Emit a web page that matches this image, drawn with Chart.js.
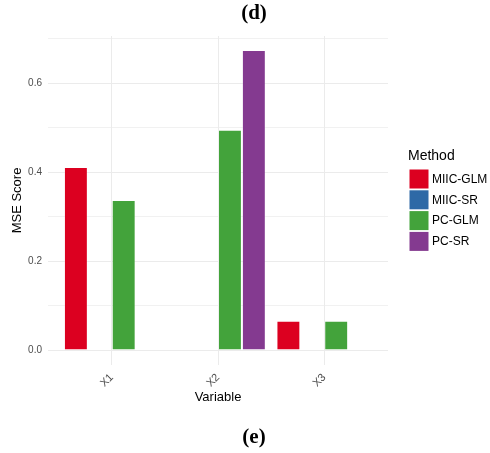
<!DOCTYPE html>
<html lang="en">
<head>
    <meta charset="UTF-8" />
    <title>MSE Score by Variable</title>
    <script src="https://cdn.jsdelivr.net/npm/chart.js"></script>
    <style>
        html, body { margin: 0; padding: 0; background: #ffffff; }
        #wrap { position: relative; width: 490px; height: 453px; }
    </style>
</head>
<body>
    <div id="wrap">
        <canvas id="mseChart" width="490" height="453"></canvas>
    </div>

    <script>
        // categories and scores per method
        const variables = ["X1", "X2", "X3"];
        const methods = ["MIIC-GLM", "MIIC-SR", "PC-GLM", "PC-SR"];
        const miicGlm = [0.411, null, 0.066];
        const miicSr = [null, null, null];
        const pcGlm = [0.337, 0.495, 0.066];
        const pcSr = [null, 0.674, null];
        const colors = ["#DC0020", "#2E69A6", "#43A33B", "#843A90"];
        const yTicks = [0, 0.1, 0.2, 0.3, 0.4, 0.5, 0.6, 0.7];

        const seriesValues = [miicGlm, miicSr, pcGlm, pcSr];
        const datasets = methods.map((m, i) => ({
            label: m,
            data: seriesValues[i].map((v, j) => ({ x: j + 1, y: v })),
            backgroundColor: colors[i],
            borderColor: "rgba(255,255,255,0.25)",
            borderWidth: 1,
            categoryPercentage: 0.9,
            barPercentage: 1.0,
        }));

        const FONT = "'Liberation Sans', Arial, sans-serif";

        // legend and panel labels drawn straight onto the canvas
        const extras = {
            id: "extras",
            afterDraw(chart) {
                const ctx = chart.ctx;
                ctx.save();
                ctx.fillStyle = "#000";
                ctx.textAlign = "center";
                ctx.textBaseline = "middle";
                ctx.font = "bold 21px 'Liberation Serif', 'Times New Roman', serif";
                ctx.fillText("(d)", 254, 14);
                ctx.fillText("(e)", 254, 438);

                ctx.textAlign = "left";
                ctx.font = "14px " + FONT;
                ctx.fillText("Method", 408, 156);
                ctx.font = "12px " + FONT;
                chart.data.datasets.forEach((ds, i) => {
                    const y = 169.5 + i * 20.8;
                    ctx.fillStyle = ds.backgroundColor;
                    ctx.fillRect(409.5, y, 19, 19);
                    ctx.fillStyle = "#000";
                    ctx.fillText(ds.label, 432, y + 10);
                });
                ctx.restore();
            },
        };

        new Chart(document.getElementById("mseChart"), {
            type: "bar",
            data: { datasets: datasets },
            plugins: [extras],
            options: {
                responsive: false,
                animation: false,
                layout: { padding: { left: 0, right: 102, top: 36, bottom: 48 } },
                plugins: {
                    legend: { display: false },
                    tooltip: { enabled: false },
                },
                scales: {
                    x: {
                        type: "linear",
                        min: 0.4,
                        max: 3.6,
                        offset: false,
                        afterBuildTicks: (axis) => {
                            axis.ticks = variables.map((_, i) => ({ value: i + 1 }));
                        },
                        afterFit: (axis) => { axis.height = 40; },
                        border: { display: false },
                        grid: { color: "#ebebeb", lineWidth: 1, drawTicks: false, offset: false },
                        ticks: {
                            autoSkip: false,
                            minRotation: 45,
                            maxRotation: 45,
                            padding: 6,
                            color: "#4d4d4d",
                            font: { family: FONT, size: 11 },
                            callback: (v) => variables[Math.round(v) - 1],
                        },
                        title: {
                            display: true,
                            text: "Variable",
                            color: "#000",
                            font: { family: FONT, size: 13 },
                            padding: { top: 0, bottom: 0 },
                        },
                    },
                    y: {
                        min: -0.0336,
                        max: 0.7056,
                        afterBuildTicks: (axis) => {
                            axis.ticks = yTicks.map((v) => ({ value: v }));
                        },
                        afterFit: (axis) => { axis.width = 48; },
                        border: { display: false },
                        grid: {
                            color: "#ebebeb",
                            drawTicks: false,
                            lineWidth: (c) => (Math.round(c.tick.value * 10) % 2 === 0 ? 1 : 0.7),
                        },
                        ticks: {
                            padding: 6,
                            color: "#4d4d4d",
                            font: { family: FONT, size: 10 },
                            callback: (v) => (Math.round(v * 10) % 2 === 0 ? v.toFixed(1) : ""),
                        },
                        title: {
                            display: true,
                            text: "MSE Score",
                            color: "#000",
                            font: { family: FONT, size: 13 },
                            padding: { top: 10, bottom: 0 },
                        },
                    },
                },
            },
        });
    </script>
</body>
</html>
